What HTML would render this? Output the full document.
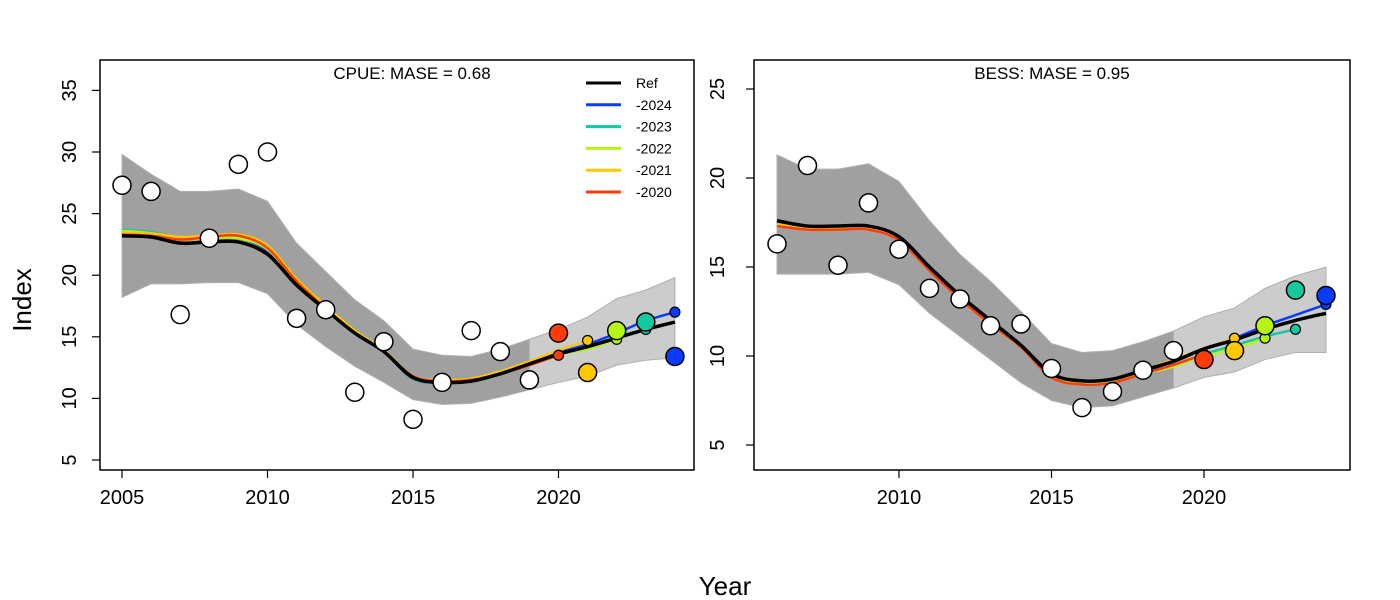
<!DOCTYPE html>
<html><head><meta charset="utf-8"><style>
body{margin:0;background:#fff}
svg{display:block;font-family:"Liberation Sans",Arial,sans-serif}
</style></head><body>
<svg id="chart" width="1400" height="600" viewBox="0 0 1400 600" xmlns="http://www.w3.org/2000/svg"></svg>
<script>
// ---- CPUE data
const cpueYears=[2005,2006,2007,2008,2009,2010,2011,2012,2013,2014,2015,2016,2017,2018,2019,2020,2021,2022,2023,2024];
const cpueObs=[27.3,26.8,16.8,23.0,29.0,30.0,16.5,17.2,10.5,14.6,8.3,11.3,15.5,13.8,11.5,15.3,12.1,15.5,16.2,13.4];
const cpueRef=[23.2,23.1,22.6,22.7,22.7,21.7,19.2,17.2,15.3,13.8,11.7,11.3,11.4,12.0,12.8,13.6,14.2,14.9,15.6,16.2];
const cpueUpper=[29.8,28.2,26.8,26.8,27.0,26.0,22.6,20.3,18.0,16.3,14.0,13.5,13.4,14.0,14.8,15.6,16.6,18.1,18.8,19.8];
const cpueLower=[18.2,19.3,19.3,19.4,19.4,18.5,16.0,14.2,12.6,11.3,9.9,9.5,9.6,10.1,10.7,11.3,11.8,12.7,13.1,13.3];
const cpuePeel2024=[23.5,23.4,22.9,23.0,23.0,22.0,19.4,17.3,15.4,13.8,11.6,11.3,11.4,12.0,12.8,13.7,14.4,15.3,16.3,17.0];
const cpuePeel2023=[23.7,23.5,23.0,23.1,23.1,22.1,19.5,17.4,15.4,13.8,11.6,11.3,11.4,12.0,12.8,13.6,14.2,15.0,15.6];
const cpuePeel2022=[23.6,23.4,22.9,23.0,23.0,22.1,19.5,17.4,15.4,13.8,11.7,11.4,11.5,12.1,12.9,13.6,14.0,14.8];
const cpuePeel2021=[23.5,23.4,23.1,23.2,23.3,22.4,19.7,17.5,15.5,13.9,11.8,11.5,11.6,12.2,13.0,13.9,14.7];
const cpuePeel2020=[23.3,23.2,22.9,23.1,23.2,22.2,19.5,17.3,15.3,13.8,11.8,11.4,11.5,12.0,12.7,13.5];
// ---- BESS data
const bessYears=[2006,2007,2008,2009,2010,2011,2012,2013,2014,2015,2016,2017,2018,2019,2020,2021,2022,2023,2024];
const bessObs=[16.3,20.7,15.1,18.6,16.0,13.8,13.2,11.7,11.8,9.3,7.1,8.0,9.2,10.3,9.8,10.3,11.7,13.7,13.4];
const bessRef=[17.6,17.3,17.3,17.3,16.7,15.0,13.4,12.0,10.6,9.0,8.6,8.7,9.2,9.7,10.4,10.9,11.5,12.0,12.4];
const bessUpper=[21.3,20.5,20.5,20.8,19.8,17.6,15.7,14.2,12.5,10.7,10.2,10.3,10.8,11.4,12.2,12.7,13.8,14.5,15.0];
const bessLower=[14.6,14.6,14.6,14.7,14.0,12.4,11.1,9.8,8.5,7.5,7.1,7.2,7.7,8.2,8.8,9.1,9.8,10.2,10.2];
const bessPeel2024=[17.4,17.2,17.2,17.2,16.6,14.9,13.3,11.9,10.5,8.9,8.5,8.6,9.1,9.7,10.4,11.0,11.7,12.3,12.9];
const bessPeel2023=[17.3,17.1,17.1,17.1,16.5,14.8,13.2,11.8,10.5,8.9,8.5,8.6,9.0,9.5,10.1,10.6,11.1,11.5];
const bessPeel2022=[17.3,17.1,17.1,17.1,16.5,14.8,13.2,11.8,10.5,8.9,8.5,8.6,9.0,9.4,10.0,10.4,11.0];
const bessPeel2021=[17.4,17.2,17.2,17.2,16.6,14.9,13.3,11.9,10.6,9.0,8.6,8.7,9.2,9.8,10.4,11.0];
const bessPeel2020=[17.3,17.1,17.1,17.1,16.5,14.8,13.2,11.8,10.5,8.8,8.4,8.5,9.0,9.5,10.1];
const peelNames=['-2024','-2023','-2022','-2021','-2020'];
const peelColors=['#0a3cff','#14c8a0','#b4f514','#ffc800','#ff3c0a'];
const cpueXTicks=[2005,2010,2015,2020];
const cpueYTicks=[5,10,15,20,25,30,35];
const bessXTicks=[2010,2015,2020];
const bessYTicks=[5,10,15,20,25];

const NS='http://www.w3.org/2000/svg';
const svg=document.getElementById('chart');
function mk(tag,attrs,parent){const e=document.createElementNS(NS,tag);for(const k in attrs)e.setAttribute(k,attrs[k]);(parent||svg).appendChild(e);return e;}
function smooth(pts){if(pts.length<2)return '';let d='M'+pts[0][0]+','+pts[0][1];for(let i=0;i<pts.length-1;i++){const p0=pts[i-1]||pts[i],p1=pts[i],p2=pts[i+1],p3=pts[i+2]||p2;d+=' C'+(p1[0]+(p2[0]-p0[0])/6)+','+(p1[1]+(p2[1]-p0[1])/6)+' '+(p2[0]-(p3[0]-p1[0])/6)+','+(p2[1]-(p3[1]-p1[1])/6)+' '+p2[0]+','+p2[1];}return d;}

function panel(cfg){
  const {name,years,obs,ref,upper,lower,peels,xs,ys,box,xTicks,yTicks,title,titleX,legend,yLabOff}=cfg;
  const g=mk('g',{});
  
  const iSplit=years.indexOf(2019);
  function band(i0,i1,fill,nm){let pts=[];for(let i=i0;i<=i1;i++)pts.push(xs(years[i])+','+ys(upper[i]));for(let i=i1;i>=i0;i--)pts.push(xs(years[i])+','+ys(lower[i]));const p=mk('polygon',{points:pts.join(' '),fill:fill,stroke:'#b0b0b0','stroke-width':1},g);}
  band(0,iSplit,'#a0a0a0',name+'-ci-band');
  band(iSplit,years.length-1,'#cccccc',name+'-forecast-band');
  peels.forEach((pv,k)=>{const pts=pv.map((v,i)=>[xs(years[i]),ys(v)]);const p=mk('path',{d:smooth(pts),fill:'none',stroke:peelColors[k],'stroke-width':2.5},g);});
  const rp=mk('path',{d:smooth(ref.map((v,i)=>[xs(years[i]),ys(v)])),fill:'none',stroke:'#000','stroke-width':3.5},g);
  
  peels.forEach((pv,k)=>{const yr=2024-k;const i=years.indexOf(yr);const c=mk('circle',{cx:xs(yr),cy:ys(pv[i]!==undefined?pv[i]:pv[pv.length-1]),r:5,fill:peelColors[k],stroke:'#000','stroke-width':1.2},g);});
  obs.forEach((v,i)=>{const yr=years[i];const k=2024-yr;const fill=(k>=0&&k<5)?peelColors[k]:'#fff';const c=mk('circle',{cx:xs(yr),cy:ys(v),r:9,fill:fill,stroke:'#000','stroke-width':1.5},g);});
  const b=mk('rect',{x:box[0],y:box[1],width:box[2]-box[0],height:box[3]-box[1],fill:'none',stroke:'#000','stroke-width':1.5},g);
  
  xTicks.forEach(t=>{const x=xs(t);mk('line',{x1:x,x2:x,y1:box[3],y2:box[3]+8,stroke:'#000','stroke-width':1.2},g);const tx=mk('text',{x:x,y:box[3]+34,'text-anchor':'middle','font-size':20},g);tx.textContent=t;});
  yTicks.forEach(t=>{const y=ys(t);const lx=box[0]-yLabOff;mk('line',{x1:box[0]-8,x2:box[0],y1:y,y2:y,stroke:'#000','stroke-width':1.2},g);const tx=mk('text',{x:lx,y:y,'text-anchor':'middle','font-size':20,transform:'rotate(-90 '+lx+' '+y+')'},g);tx.textContent=t;});
  const tt=mk('text',{x:titleX,y:box[1]+19,'text-anchor':'middle','font-size':17},g);tt.textContent=title;
  
  if(legend){const lg=mk('g',{},g);
    const names=['Ref'].concat(peelNames),cols=['#000'].concat(peelColors);
    names.forEach((n,i)=>{const y=83+i*21.8;mk('line',{x1:586,x2:621,y1:y,y2:y,stroke:cols[i],'stroke-width':3},lg);const t=mk('text',{x:636,y:y+5,'font-size':14},lg);t.textContent=n;});}
}
panel({name:'cpue',years:cpueYears,obs:cpueObs,ref:cpueRef,upper:cpueUpper,lower:cpueLower,
 peels:[cpuePeel2024,cpuePeel2023,cpuePeel2022,cpuePeel2021,cpuePeel2020],
 xs:y=>122+(y-2005)*29.1,ys:v=>460-(v-5)*12.32,box:[100,60,694,470],xTicks:cpueXTicks,yTicks:cpueYTicks,
 title:'CPUE: MASE = 0.68',titleX:412,legend:true,yLabOff:24});
panel({name:'bess',years:bessYears,obs:bessObs,ref:bessRef,upper:bessUpper,lower:bessLower,
 peels:[bessPeel2024,bessPeel2023,bessPeel2022,bessPeel2021,bessPeel2020],
 xs:y=>899+(y-2010)*30.5,ys:v=>445-(v-5)*17.8,box:[754,60,1350,470],xTicks:bessXTicks,yTicks:bessYTicks,
 title:'BESS: MASE = 0.95',titleX:1052,legend:false,yLabOff:30});
const yl=mk('text',{x:31,y:300,'text-anchor':'middle','font-size':26,transform:'rotate(-90 31 300)'});yl.textContent='Index';

const xl=mk('text',{x:725,y:595,'text-anchor':'middle','font-size':26});xl.textContent='Year';

</script>
</body></html>
